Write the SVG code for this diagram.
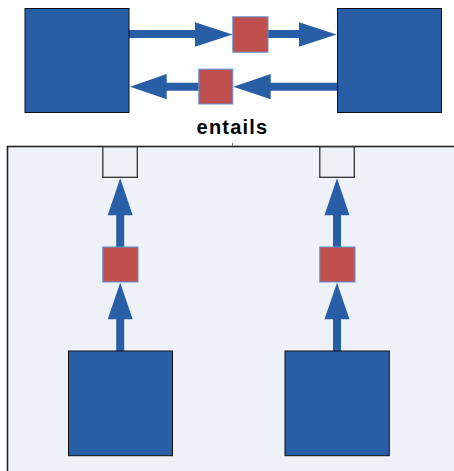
<svg xmlns="http://www.w3.org/2000/svg" width="454" height="471" viewBox="0 0 454 471">
<style>
.big{fill:#285EA6;stroke:#111;stroke-width:1}
.red{fill:#C0504D;stroke:#5B93D8;stroke-width:1}
.small{fill:#EEF1F7;stroke:#333;stroke-width:1.3}
.ln{stroke:#285EA6;stroke-width:8;fill:none}
.ah{fill:#285EA6}
.lbl{font-family:"Liberation Sans",Arial,sans-serif;font-weight:bold;font-size:20px;fill:#000}
</style>
<rect x="0" y="0" width="454" height="471" fill="#fff"/>
<g id="panel">
<rect x="7.5" y="146.5" width="460" height="340" fill="#EEF1F7" stroke="#222" stroke-width="1.6"/>
<line x1="232.5" y1="143" x2="232.5" y2="146" stroke="#777" stroke-width="1"/>
</g>
<g id="connectors">
<line class="ln" x1="129" y1="34" x2="196" y2="34"/>
<polygon class="ah" points="195,22.3 232.5,34.5 195,46.7"/>
<line class="ln" x1="268" y1="34" x2="300" y2="34"/>
<polygon class="ah" points="299,22.3 336.5,34.5 299,46.7"/>
<line class="ln" x1="337" y1="86.7" x2="270" y2="86.7"/>
<polygon class="ah" points="270.7,74 233.3,86.7 270.7,99.3"/>
<line class="ln" x1="199" y1="86.7" x2="166" y2="86.7"/>
<polygon class="ah" points="166.7,74 130,86.7 166.7,99.3"/>
<line class="ln" x1="120.2" y1="351" x2="120.2" y2="318"/>
<polygon class="ah" points="107.7,319.3 120.2,282.7 132.7,319.3"/>
<line class="ln" x1="120.2" y1="247" x2="120.2" y2="214"/>
<polygon class="ah" points="107.7,215.3 120.2,178.3 132.7,215.3"/>
<line class="ln" x1="337" y1="351" x2="337" y2="318"/>
<polygon class="ah" points="324.5,319.3 337,282.7 349.5,319.3"/>
<line class="ln" x1="337" y1="247" x2="337" y2="214"/>
<polygon class="ah" points="324.5,215.3 337,178.3 349.5,215.3"/>
</g>
<g id="topLeft"><rect class="big" x="25" y="8.5" width="104" height="104"/></g>
<g id="topRight"><rect class="big" x="337.5" y="8.5" width="104" height="104"/></g>
<g id="redTop"><rect class="red" x="232.8" y="16.8" width="35.2" height="35.4"/></g>
<g id="redBottom"><rect class="red" x="198.8" y="69.2" width="34" height="34.8"/></g>
<g id="label"><text class="lbl" x="232.5" y="134" text-anchor="middle" letter-spacing="1.2">entails</text></g>
<g id="smallLeft"><rect class="small" x="102.8" y="146.8" width="34.5" height="30.5"/></g>
<g id="smallRight"><rect class="small" x="319.8" y="146.8" width="34.5" height="30.5"/></g>
<g id="redLeft"><rect class="red" x="102.8" y="247" width="35.2" height="35"/></g>
<g id="redRight"><rect class="red" x="319.8" y="247" width="35.2" height="35"/></g>
<g id="bigLeft"><rect class="big" x="68.5" y="351" width="104" height="104.7"/></g>
<g id="bigRight"><rect class="big" x="285" y="351" width="104.3" height="104.7"/></g>
</svg>
